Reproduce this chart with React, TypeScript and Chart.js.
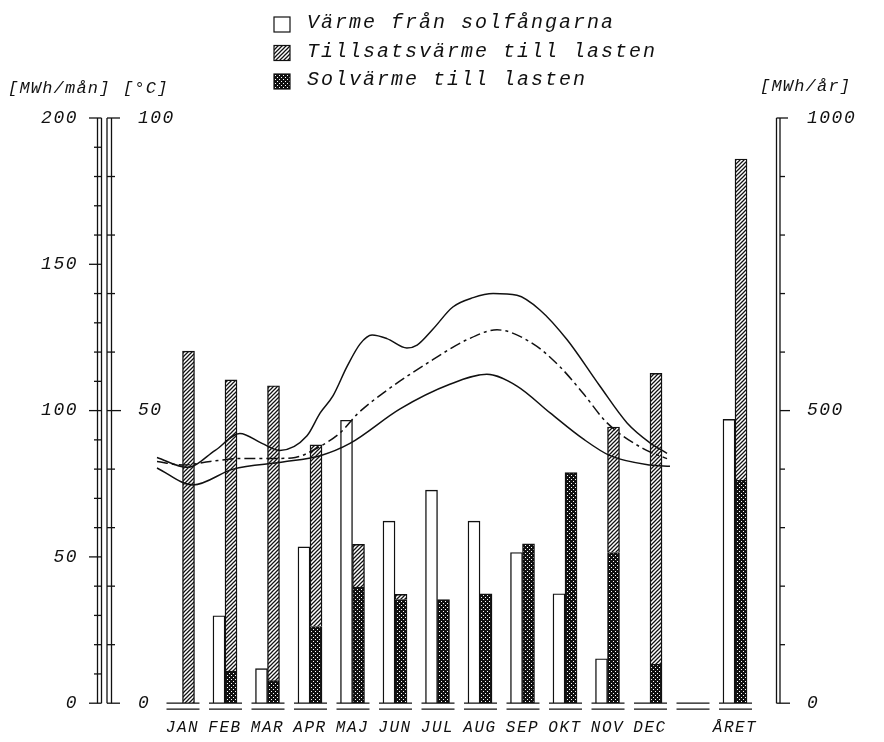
import React, { useEffect, useRef } from 'react';
import { Chart, registerables } from 'chart.js';

Chart.register(...registerables);

const FONT = "'Liberation Mono', 'DejaVu Sans Mono', monospace";
const INK = '#111';

// Categories (index 12 is an empty slot before the yearly bar)
const xLabels = ['JAN', 'FEB', 'MAR', 'APR', 'MAJ', 'JUN', 'JUL', 'AUG', 'SEP', 'OKT', 'NOV', 'DEC', '', 'ÅRET'];
const yearIndex = 13;

const legendLabels = ['Värme från solfångarna', 'Tillsatsvärme till lasten', 'Solvärme till lasten'];

// Monthly values [MWh/mån]
const heatFromCollectors = [0, 29.9, 11.8, 53.4, 96.7, 62.2, 72.8, 62.2, 51.5, 37.4, 15.2, 0];
const solarToLoad = [0, 11.0, 7.7, 26.2, 39.7, 35.4, 35.4, 37.4, 54.5, 78.8, 51.5, 13.3];
const auxToLoad = [120.3, 99.5, 100.8, 62.1, 14.6, 1.8, 0, 0, 0, 0, 42.9, 99.4];

// Yearly values [MWh/år]
const yearHeatFromCollectors = 485;
const yearSolarToLoad = 381;
const yearAuxToLoad = 549;

// Temperature curves [°C], positions in month units (0 = JAN)
const tempUpperPos = [-0.6, 0.11, 0.77, 1.35, 1.87, 2.29, 2.93, 3.24, 3.54, 3.87, 4.18, 4.46, 4.81, 5.28, 5.52, 5.89, 6.36, 6.84, 7.31, 7.87, 8.41, 9.05, 9.82, 10.46, 11.0, 11.4];
const tempUpper = [42.0, 40.3, 43.2, 46.1, 44.4, 43.2, 45.7, 49.6, 52.5, 57.5, 61.4, 62.9, 62.3, 60.7, 61.2, 63.9, 67.7, 69.3, 70.0, 69.7, 67.2, 62.1, 54.2, 47.9, 44.5, 42.7];

const tempMidPos = [-0.6, 0.01, 0.65, 1.35, 2.06, 2.65, 3.19, 3.71, 4.11, 4.72, 5.89, 6.69, 7.4, 8.25, 8.88, 9.42, 9.99, 10.84, 11.4];
const tempMid = [41.3, 40.7, 41.3, 41.8, 41.8, 42.0, 43.7, 46.2, 49.4, 53.0, 58.7, 62.1, 63.8, 61.4, 57.5, 53.0, 47.9, 43.5, 41.8];

const tempLowerPos = [-0.6, 0.25, 1.19, 2.36, 3.24, 3.94, 5.12, 6.29, 7.16, 7.87, 8.65, 9.42, 10.06, 11.0, 11.47];
const tempLower = [40.2, 37.3, 40.0, 41.2, 42.3, 44.4, 50.3, 54.5, 56.2, 54.2, 49.6, 45.2, 42.3, 40.7, 40.5];

function makePatterns(ctx: CanvasRenderingContext2D) {
  const h = document.createElement('canvas');
  h.width = 4; h.height = 4;
  const hg = h.getContext('2d')!;
  hg.fillStyle = '#fff'; hg.fillRect(0, 0, 4, 4);
  hg.strokeStyle = INK; hg.lineWidth = 1.25;
  hg.beginPath();
  hg.moveTo(-1, 5); hg.lineTo(5, -1);
  hg.moveTo(-1, 1); hg.lineTo(1, -1);
  hg.moveTo(3, 5); hg.lineTo(5, 3);
  hg.stroke();

  const c = document.createElement('canvas');
  c.width = 4; c.height = 4;
  const cg = c.getContext('2d')!;
  cg.fillStyle = INK; cg.fillRect(0, 0, 4, 4);
  cg.fillStyle = '#fff';
  cg.fillRect(1, 1, 1, 1);
  cg.fillRect(3, 3, 1, 1);

  return {
    hatch: ctx.createPattern(h, 'repeat')!,
    cross: ctx.createPattern(c, 'repeat')!,
  };
}

function line(ctx: CanvasRenderingContext2D, x1: number, y1: number, x2: number, y2: number) {
  ctx.beginPath();
  ctx.moveTo(x1, y1);
  ctx.lineTo(x2, y2);
  ctx.stroke();
}

const decorPlugin = {
  id: 'decor',
  beforeDraw(chart: any) {
    const ctx = chart.ctx;
    ctx.save();
    ctx.fillStyle = '#fff';
    ctx.fillRect(0, 0, chart.width, chart.height);
    ctx.restore();
    ctx.letterSpacing = '1.5px';
  },
  afterDraw(chart: any) {
    const ctx: any = chart.ctx;
    const { x, y, y1, yR } = chart.scales;
    ctx.save();
    ctx.strokeStyle = INK;
    ctx.fillStyle = INK;
    ctx.lineWidth = 1.3;

    // Left MWh/mån axis (double line)
    const ax = y.right;
    const top = y.getPixelForValue(200);
    const bot = y.getPixelForValue(0);
    line(ctx, ax - 4.5, top, ax - 4.5, bot);
    line(ctx, ax - 0.5, top, ax - 0.5, bot);
    line(ctx, ax - 13, top, ax - 0.5, top);
    for (let v = 0; v < 200; v += 10) {
      const py = y.getPixelForValue(v);
      if (v % 50 === 0) line(ctx, ax - 13, py, ax - 0.5, py);
      else line(ctx, ax - 8, py, ax - 0.5, py);
    }

    // °C axis (double line)
    const cx = ax + 5;
    const ctop = y1.getPixelForValue(100);
    const cbot = y1.getPixelForValue(0);
    line(ctx, cx, ctop, cx, cbot);
    line(ctx, cx + 4.5, ctop, cx + 4.5, cbot);
    line(ctx, cx, ctop, cx + 13, ctop);
    line(ctx, cx, cbot, cx + 13, cbot);
    for (let v = 10; v < 100; v += 10) {
      const py = y1.getPixelForValue(v);
      line(ctx, cx, py, cx + (v === 50 ? 14 : 8), py);
    }
    ctx.font = `italic 18px ${FONT}`;
    ctx.letterSpacing = '1.5px';
    ctx.textAlign = 'left';
    ctx.textBaseline = 'middle';
    for (const v of [0, 50, 100]) {
      ctx.fillText(String(v), ax + 36, y1.getPixelForValue(v));
    }

    // Right MWh/år axis (double line)
    const rx = yR.left;
    const rtop = yR.getPixelForValue(1000);
    const rbot = yR.getPixelForValue(0);
    line(ctx, rx - 2.5, rtop, rx - 2.5, rbot);
    line(ctx, rx + 1, rtop, rx + 1, rbot);
    line(ctx, rx - 2.5, rtop, rx + 9, rtop);
    line(ctx, rx - 2.5, rbot, rx + 11, rbot);
    for (let v = 100; v < 1000; v += 100) {
      const py = yR.getPixelForValue(v);
      line(ctx, rx + 1, py, rx + (v === 500 ? 11 : 6), py);
    }

    // Double baseline segments under each category slot
    for (let i = 0; i < xLabels.length; i++) {
      const px = x.getPixelForValue(i);
      line(ctx, px - 16, bot, px + 17, bot);
      line(ctx, px - 16, bot + 6, px + 17, bot + 6);
    }

    // Axis unit titles
    ctx.font = `italic 17px ${FONT}`;
    ctx.letterSpacing = '1.2px';
    ctx.textAlign = 'left';
    ctx.textBaseline = 'middle';
    ctx.fillText('[MWh/mån]', 8, 88);
    ctx.fillText('[°C]', 123, 88);
    ctx.fillText('[MWh/år]', 760, 86);

    // Legend
    const ds = chart.data.datasets;
    const items = [ds[0], ds[2], ds[1]];
    ctx.font = `italic 20px ${FONT}`;
    ctx.letterSpacing = '2px';
    items.forEach((d: any, k: number) => {
      const cy = 23 + k * 28.5;
      ctx.fillStyle = d.backgroundColor;
      ctx.fillRect(274, cy - 6, 16, 15);
      ctx.lineWidth = 1.2;
      ctx.strokeRect(274, cy - 6, 16, 15);
      ctx.fillStyle = INK;
      ctx.fillText(d.label, 307, cy);
    });
    ctx.restore();
  },
};

export default function App() {
  const canvasRef = useRef<HTMLCanvasElement | null>(null);

  useEffect(() => {
    document.body.style.margin = '0';
    const canvas = canvasRef.current!;
    const ctx = canvas.getContext('2d')!;
    const { hatch, cross } = makePatterns(ctx);

    const monthly = (arr: number[]) => arr.map((v, i) => ({ x: i, y: v }));
    const curve = (pos: number[], vals: number[]) => pos.map((p, i) => ({ x: p, y: vals[i] }));

    const barBase = { type: 'bar', borderColor: INK, borderWidth: 1.4, barThickness: 12 };
    const lineBase = {
      type: 'line', yAxisID: 'y1', borderColor: INK, borderWidth: 1.5, pointRadius: 0,
      cubicInterpolationMode: 'monotone', fill: false, order: -1,
    };

    const chart = new Chart(ctx, {
      type: 'bar',
      data: {
        datasets: [
          { ...barBase, label: legendLabels[0], data: monthly(heatFromCollectors), yAxisID: 'y', stack: 'w', backgroundColor: '#fff' },
          { ...barBase, label: legendLabels[2], data: monthly(solarToLoad), yAxisID: 'y', stack: 'c', backgroundColor: cross },
          { ...barBase, label: legendLabels[1], data: monthly(auxToLoad), yAxisID: 'y', stack: 'c', backgroundColor: hatch },
          { ...barBase, label: legendLabels[0], data: [{ x: yearIndex, y: yearHeatFromCollectors }], yAxisID: 'yR', stack: 'w', backgroundColor: '#fff' },
          { ...barBase, label: legendLabels[2], data: [{ x: yearIndex, y: yearSolarToLoad }], yAxisID: 'yR', stack: 'c', backgroundColor: cross },
          { ...barBase, label: legendLabels[1], data: [{ x: yearIndex, y: yearAuxToLoad }], yAxisID: 'yR', stack: 'c', backgroundColor: hatch },
          { ...lineBase, label: 'Temp övre', data: curve(tempUpperPos, tempUpper) },
          { ...lineBase, label: 'Temp medel', data: curve(tempMidPos, tempMid), borderDash: [11, 4, 3, 4] },
          { ...lineBase, label: 'Temp undre', data: curve(tempLowerPos, tempLower) },
        ] as any,
      },
      options: {
        responsive: false,
        animation: false,
        events: [],
        layout: { padding: { top: 118, left: 0, right: 0, bottom: 0 } },
        plugins: { legend: { display: false }, tooltip: { enabled: false } },
        scales: {
          x: {
            type: 'linear',
            offset: false,
            min: -1.894,
            max: 14.035,
            grid: { display: false, drawTicks: false, offset: false },
            border: { display: false },
            afterBuildTicks: (axis: any) => {
              axis.ticks = xLabels.map((_, i) => ({ value: i }));
            },
            afterFit: (s: any) => { s.height = 31; },
            ticks: {
              autoSkip: false,
              maxRotation: 0,
              padding: 15,
              color: INK,
              font: { family: FONT, size: 16, style: 'italic' },
              callback: (v: any) => xLabels[v] ?? '',
            },
          },
          y: {
            position: 'left',
            min: 0,
            max: 200,
            stacked: true,
            grid: { display: false, drawTicks: false },
            border: { display: false },
            afterFit: (s: any) => { s.width = 102; },
            ticks: { stepSize: 50, padding: 24, color: INK, font: { family: FONT, size: 18, style: 'italic' } },
          },
          y1: {
            position: 'left',
            display: false,
            min: 0,
            max: 100,
          },
          yR: {
            position: 'right',
            min: 0,
            max: 1000,
            stacked: true,
            grid: { display: false, drawTicks: false },
            border: { display: false },
            afterFit: (s: any) => { s.width = 105; },
            ticks: {
              stepSize: 500, padding: 28, color: INK,
              font: { family: FONT, size: 18, style: 'italic' },
              callback: (v: any) => String(v),
            },
          },
        },
      } as any,
      plugins: [decorPlugin],
    });
    return () => chart.destroy();
  }, []);

  return (
    <div style={{ width: 884, height: 742 }}>
      <canvas ref={canvasRef} width={884} height={742} style={{ display: 'block' }} />
    </div>
  );
}
